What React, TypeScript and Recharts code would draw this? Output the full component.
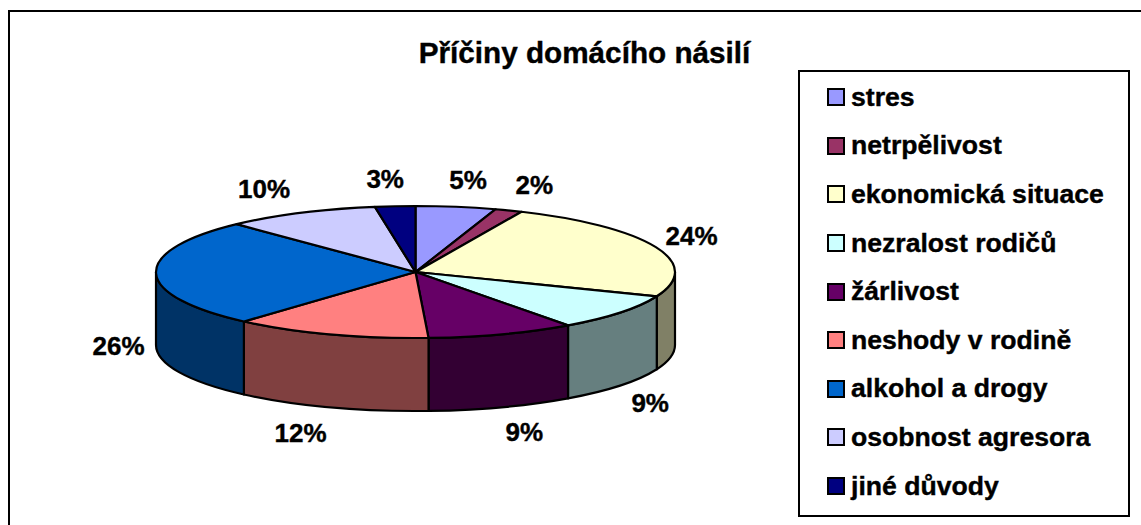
import React from 'react';
import { PieChart, Pie, Legend } from 'recharts';

const causes = [
  'stres',
  'netrpělivost',
  'ekonomická situace',
  'nezralost rodičů',
  'žárlivost',
  'neshody v rodině',
  'alkohol a drogy',
  'osobnost agresora',
  'jiné důvody',
];
// read from slice boundaries, the labels show them rounded
const shares = [5, 1.7, 24.3, 9, 9.2, 12.3, 26.4, 9.6, 2.5];
const topColors = ['#9999FF', '#993366', '#FFFFCC', '#CCFFFF', '#660066', '#FF8080', '#0066CC', '#CCCCFF', '#000080'];
const sideColors = ['#4C4C80', '#4C1933', '#808066', '#667F7F', '#330033', '#804040', '#003366', '#666680', '#000040'];

const chartData = causes.map((name, i) => ({
  name,
  value: shares[i],
  fill: topColors[i],
  side: sideColors[i],
}));

const FONT = '"Liberation Sans", Arial, sans-serif';
const SQUASH = 66 / 259.5; // tilt of the pie
const DEPTH = 73;
const RAD = Math.PI / 180;

const Slice3D = (props: any) => {
  const { cx, cy, outerRadius: r, startAngle, endAngle, fill, payload } = props;
  const ry = r * SQUASH;
  const pt = (a: number) => [cx + r * Math.cos(a * RAD), cy - ry * Math.sin(a * RAD)];
  const [sx, sy] = pt(startAngle);
  const [ex, ey] = pt(endAngle);
  const large = Math.abs(startAngle - endAngle) > 180 ? 1 : 0;
  const hi = Math.min(startAngle, 0);
  const lo = Math.max(endAngle, -180);
  let wall = null;
  if (hi > lo) {
    const [ax, ay] = pt(hi);
    const [bx, by] = pt(lo);
    wall = (
      <path
        d={`M${ax},${ay} A${r},${ry} 0 0 1 ${bx},${by} L${bx},${by + DEPTH} A${r},${ry} 0 0 0 ${ax},${ay + DEPTH} Z`}
        fill={payload.side}
        stroke="#000"
        strokeWidth={2.2}
        strokeLinejoin="round"
      />
    );
  }
  return (
    <g>
      {wall}
      <path
        d={`M${cx},${cy} L${sx},${sy} A${r},${ry} 0 ${large} 1 ${ex},${ey} Z`}
        fill={fill}
        stroke="#000"
        strokeWidth={2.2}
        strokeLinejoin="round"
      />
    </g>
  );
};

const labelNudge = [
  [6, 2],
  [12, 2],
  [1, 0],
  [0, 0],
  [10, -3],
  [-17, -2],
  [0, -1],
  [-20, 2],
  [-7, 2],
];

const renderLabel = (props: any) => {
  const { cx, cy, midAngle, value, index } = props;
  const sin = Math.sin(midAngle * RAD);
  const x = cx + 297 * Math.cos(midAngle * RAD) + labelNudge[index][0];
  const y = cy - 95 * sin + (sin < 0 ? DEPTH : 0) + labelNudge[index][1];
  return (
    <text
      key={index}
      x={x}
      y={y}
      textAnchor="middle"
      dominantBaseline="central"
      fontFamily={FONT}
      fontWeight="bold"
      fontSize={26}
      fill="#000"
      stroke="#000"
      strokeWidth={0.4}
    >
      {Math.round(value)}%
    </text>
  );
};

const LegendBox = ({ payload }: any) => (
  <div style={{ boxSizing: 'border-box', width: 332, height: 447, border: '2px solid #000', background: '#fff', paddingTop: 1 }}>
    {(payload || []).map((entry: any) => (
      <div
        key={entry.value}
        style={{
          height: 48.6,
          display: 'flex',
          alignItems: 'center',
          paddingLeft: 27,
          fontFamily: FONT,
          fontWeight: 'bold',
          fontSize: 26.6,
          color: '#000',
          whiteSpace: 'nowrap',
          WebkitTextStroke: '0.4px #000',
        }}
      >
        <span style={{ boxSizing: 'border-box', width: 18, height: 18, border: '2px solid #000', background: entry.color, marginRight: 6 }} />
        {entry.value}
      </div>
    ))}
  </div>
);

export default function App() {
  return (
    <div style={{ position: 'fixed', left: 0, top: 0, width: 1141, height: 525, overflow: 'hidden', background: '#fff' }}>
      <div
        style={{
          position: 'absolute',
          left: 8,
          top: 10,
          width: 1200,
          height: 600,
          borderLeft: '2px solid #000',
          borderTop: '2px solid #000',
        }}
      />
      <PieChart
        width={1141}
        height={525}
        margin={{ top: 0, right: 0, bottom: 0, left: 0 }}
        style={{ position: 'absolute', left: 0, top: 0 }}
      >
        <text x={584.5} y={52} textAnchor="middle" dominantBaseline="central" fontFamily={FONT} fontWeight="bold" fontSize={29.7} fill="#000" stroke="#000" strokeWidth={0.4}>
          Příčiny domácího násilí
        </text>
        <Pie
          data={chartData}
          dataKey="value"
          nameKey="name"
          cx={415.5}
          cy={272}
          outerRadius={259.5}
          startAngle={90}
          endAngle={-270}
          shape={Slice3D}
          label={renderLabel}
          labelLine={false}
          isAnimationActive={false}
        />
        <Legend
          layout="vertical"
          content={<LegendBox />}
          itemSorter={null}
          wrapperStyle={{ left: 798, top: 70, width: 332, height: 447 }}
        />
      </PieChart>
    </div>
  );
}
